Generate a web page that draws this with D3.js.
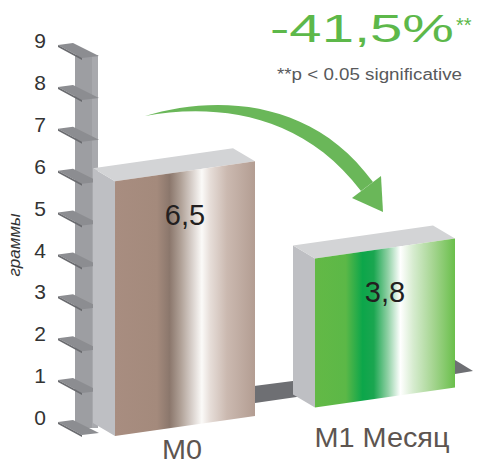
<!DOCTYPE html>
<html><head><meta charset="utf-8">
<script src="https://cdn.jsdelivr.net/npm/d3@7"></script>
<style>html,body{margin:0;padding:0;background:#fff}svg{display:block}</style>
</head><body>
<script>
const categories = ["M0", "M1 Месяц"];
const values = [6.5, 3.8];
const valueLabels = ["6,5", "3,8"];
const tickValues = [0,1,2,3,4,5,6,7,8,9];
const changeLabel = "-41,5%";
const noteLabel = "**p < 0.05 significative";
const yTitle = "граммы";

const W = 477, H = 465;
const svg = d3.select("body").append("svg").attr("width", W).attr("height", H);
const defs = svg.append("defs");

const gradStops = [
  [[0,"#a88d80"],[0.3,"#a48a7c"],[0.39,"#8b776c"],[0.47,"#b0a197"],[0.55,"#d8d0cb"],[0.62,"#fbfaf8"],[0.68,"#e6ddd8"],[0.8,"#cbb9b0"],[1,"#b39d92"]],
  [[0,"#63b946"],[0.22,"#5cb847"],[0.34,"#0ca64a"],[0.42,"#1aa650"],[0.52,"#8fd0a4"],[0.61,"#ffffff"],[0.7,"#d7ecd0"],[0.85,"#a3d48e"],[1,"#6abf4b"]]
];
gradStops.forEach((st, i) => {
  const g = defs.append("linearGradient").attr("id", "g" + i)
    .attr("x1", 0).attr("x2", 1).attr("y1", 0).attr("y2", 0);
  st.forEach(s => g.append("stop").attr("offset", s[0]).attr("stop-color", s[1]));
});

// scales
const x = d3.scaleBand().domain(categories).range([115, 455]).paddingInner(0.3);
const floorY = d3.scaleLinear().domain([115, 455]).range([436, 387.4]);
const barH = d3.scaleLinear().domain([0, 1]).range([0, 39.2]);
const yAxis = d3.scaleLinear().domain([0, 9]).range([417, 40]);
const depth = [-22, -13];

// floor strip
svg.append("path")
  .attr("d", "M200,393 L455,360 L473,371 L455,374 L200,411 Z")
  .attr("fill", "#6e6f73");

// axis post
svg.append("rect").attr("x", 75).attr("y", 55).attr("width", 23).attr("height", 373).attr("fill", "#9d9ea2");
svg.append("rect").attr("x", 92).attr("y", 55).attr("width", 6).attr("height", 373).attr("fill", "#a8a9ad");

// shelves (ticks)
const shelves = svg.append("g").selectAll("g").data(tickValues).join("g")
  .attr("transform", d => `translate(0,${yAxis(d)})`);
shelves.append("path").attr("d", "M58,5 L73,3 L99,16 L82,18 Z").attr("fill", "#8c8d91");
shelves.append("path").attr("d", "M58,5 L82,18 L82,20 L58,7 Z").attr("fill", "#6a6b6f");

// axis labels
const ax = svg.append("g").attr("transform", "translate(46,0)")
  .call(d3.axisLeft(yAxis).tickValues(tickValues).tickSize(0).tickPadding(0));
ax.select(".domain").remove();
ax.selectAll("text").attr("font-family", "Liberation Sans, Arial, sans-serif")
  .attr("font-size", 21).attr("fill", "#333").attr("dy", "0.36em");

// y title
svg.append("text").attr("transform", "translate(20,245) rotate(-90)")
  .attr("text-anchor", "middle").attr("font-family", "Liberation Sans, Arial, sans-serif")
  .attr("font-style", "italic").attr("font-size", 17).attr("fill", "#333").text(yTitle);

// bars
const bars = svg.append("g").selectAll("g").data(categories).join("g");
bars.each(function(c, i) {
  const g = d3.select(this);
  const x0 = x(c), x1 = x(c) + x.bandwidth();
  const b0 = floorY(x0), b1 = floorY(x1);
  const h = barH(values[i]);
  const t0 = b0 - h, t1 = b1 - h;
  const [dx, dy] = depth;
  g.append("path").attr("d", `M${x0+dx},${t0+dy} L${x0},${t0} L${x0},${b0} L${x0+dx},${b0+dy} Z`).attr("fill", "#bebfc3");
  g.append("path").attr("d", `M${x0+dx},${t0+dy} L${x1+dx},${t1+dy} L${x1},${t1} L${x0},${t0} Z`).attr("fill", "#d3d4d6");
  g.append("path").attr("d", `M${x0},${t0} L${x1},${t1} L${x1},${b1} L${x0},${b0} Z`).attr("fill", `url(#g${i})`);
  const cx = x0 + x.bandwidth() / 2;
  g.append("text").attr("x", cx).attr("y", (t0 + t1) / 2 + 54)
    .attr("text-anchor", "middle").attr("font-family", "Liberation Sans, Arial, sans-serif")
    .attr("font-size", 29).attr("fill", "#231f20").text(valueLabels[i]);
});

// category labels
const labelW = [40, 135];
svg.append("g").selectAll("text").data(categories).join("text")
  .attr("x", (d, i) => x(d) + x.bandwidth() / 2 - labelW[i] / 2 - 3)
  .attr("y", d => 0.42 * floorY(x(d) + x.bandwidth() / 2) + 280.1)
  .attr("font-family", "Liberation Sans, Arial, sans-serif")
  .attr("font-size", 28).attr("fill", "#5d5550")
  .attr("textLength", (d, i) => labelW[i]).attr("lengthAdjust", "spacingAndGlyphs")
  .text(d => d);

// arrow
svg.append("path")
  .attr("d", "M145,116 C210,96 310,95 373,182 L361,191 C300,110 210,104 145,116 Z")
  .attr("fill", "#6ab759");
svg.append("path").attr("d", "M352,198 L381,176 L383,212 Z").attr("fill", "#6ab759");

// title
svg.append("text").attr("x", 270).attr("y", 42)
  .attr("font-family", "Liberation Sans, Arial, sans-serif").attr("font-size", 38)
  .attr("fill", "#5db84a").attr("textLength", 184).attr("lengthAdjust", "spacingAndGlyphs")
  .text(changeLabel);
svg.append("text").attr("x", 456).attr("y", 32)
  .attr("font-family", "Liberation Sans, Arial, sans-serif").attr("font-size", 20)
  .attr("fill", "#5db84a").text("**");
svg.append("text").attr("x", 277).attr("y", 80)
  .attr("font-family", "Liberation Sans, Arial, sans-serif").attr("font-size", 16)
  .attr("fill", "#58595b").attr("textLength", 185).attr("lengthAdjust", "spacingAndGlyphs")
  .text(noteLabel);
</script>
</body></html>
